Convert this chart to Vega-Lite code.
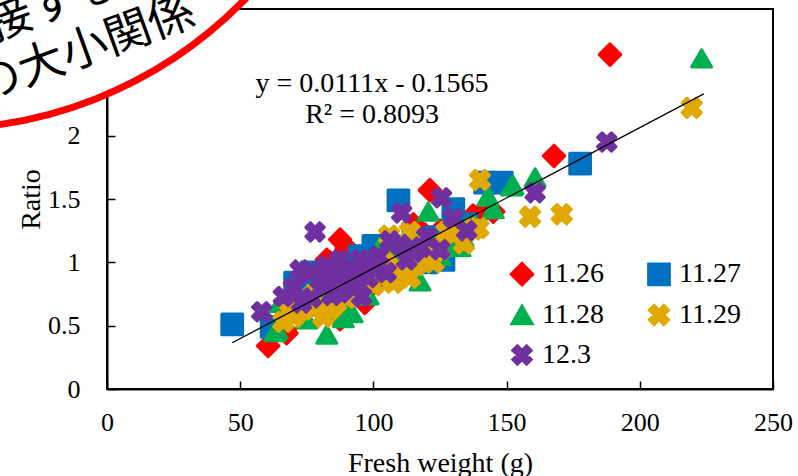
{
  "$schema": "https://vega.github.io/schema/vega-lite/v6.json",
  "autosize": {"type": "none"},
  "padding": {"left": 107, "top": 9, "right": 25, "bottom": 87},
  "width": 666,
  "height": 380,
  "background": "white",
  "config": {
    "font": "Liberation Serif",
    "view": {"stroke": "#000", "strokeWidth": 2},
    "style": {"guide-label": {"font": "Liberation Serif"}},
    "axis": {"domainColor": "#000", "domainWidth": 2, "tickColor": "#000", "tickWidth": 1.5, "tickSize": -8, "labelColor": "#000", "labelFontSize": 26, "titleFontSize": 28, "titleFontWeight": "normal", "titleColor": "#000", "grid": false, "labelFont": "Liberation Serif", "titleFont": "Liberation Serif", "labelFlush": false},
    "legend": {"labelFont": "Liberation Serif", "labelFontSize": 28, "labelColor": "#000"}
  },
  "datasets": {
    "pts": [
      {"d":"11.26","fw":188.8,"r":2.64},{"d":"11.26","fw":167.8,"r":1.84},{"d":"11.26","fw":121.2,"r":1.57},{"d":"11.26","fw":140.6,"r":1.39},{"d":"11.26","fw":145,"r":1.40},{"d":"11.26","fw":137.4,"r":1.37},{"d":"11.26","fw":115,"r":1.30},{"d":"11.26","fw":119.4,"r":1.22},{"d":"11.26","fw":87.5,"r":1.18},{"d":"11.26","fw":90,"r":1.11},{"d":"11.26","fw":92,"r":1.07},{"d":"11.26","fw":82.5,"r":1.02},{"d":"11.26","fw":83.7,"r":1.0},{"d":"11.26","fw":96.8,"r":0.68},{"d":"11.26","fw":99.4,"r":0.82},{"d":"11.26","fw":60.5,"r":0.34},{"d":"11.26","fw":67.4,"r":0.44},{"d":"11.26","fw":66.8,"r":0.47},{"d":"11.26","fw":87.5,"r":0.55},{"d":"11.26","fw":75,"r":0.7},{"d":"11.26","fw":80,"r":0.8},{"d":"11.26","fw":95,"r":0.9},{"d":"11.26","fw":101,"r":0.95},{"d":"11.26","fw":105,"r":1.02},{"d":"11.26","fw":110,"r":1.08},{"d":"11.26","fw":125,"r":1.25},{"d":"11.26","fw":130,"r":1.2},{"d":"11.26","fw":72,"r":0.62},{"d":"11.26","fw":93,"r":0.78},{"d":"11.26","fw":108,"r":0.98},{"d":"11.26","fw":113,"r":1.12},
      {"d":"11.27","fw":47,"r":0.51},{"d":"11.27","fw":177.6,"r":1.78},{"d":"11.27","fw":141.9,"r":1.63},{"d":"11.27","fw":148.2,"r":1.63},{"d":"11.27","fw":109.4,"r":1.49},{"d":"11.27","fw":130,"r":1.42},{"d":"11.27","fw":125,"r":1.08},{"d":"11.27","fw":100,"r":1.13},{"d":"11.27","fw":109,"r":1.05},{"d":"11.27","fw":70.6,"r":0.84},{"d":"11.27","fw":61.8,"r":0.49},{"d":"11.27","fw":76.8,"r":0.92},{"d":"11.27","fw":123.7,"r":1.2},{"d":"11.27","fw":126.3,"r":1.02},{"d":"11.27","fw":80,"r":0.88},{"d":"11.27","fw":90,"r":0.95},{"d":"11.27","fw":95,"r":1.05},{"d":"11.27","fw":103,"r":1.1},{"d":"11.27","fw":115,"r":1.18},{"d":"11.27","fw":118,"r":1.12},{"d":"11.27","fw":85,"r":0.78},{"d":"11.27","fw":73,"r":0.72},{"d":"11.27","fw":93,"r":0.86},{"d":"11.27","fw":120,"r":1.0},{"d":"11.27","fw":105,"r":0.98},{"d":"11.27","fw":135,"r":1.3},{"d":"11.27","fw":68,"r":0.62},
      {"d":"11.28","fw":223.2,"r":2.61},{"d":"11.28","fw":160.7,"r":1.67},{"d":"11.28","fw":152.4,"r":1.61},{"d":"11.28","fw":151.9,"r":1.6},{"d":"11.28","fw":143,"r":1.52},{"d":"11.28","fw":120.6,"r":1.40},{"d":"11.28","fw":130,"r":1.15},{"d":"11.28","fw":132.5,"r":1.12},{"d":"11.28","fw":123.8,"r":1.15},{"d":"11.28","fw":133.6,"r":1.2},{"d":"11.28","fw":131.2,"r":1.13},{"d":"11.28","fw":117.5,"r":0.85},{"d":"11.28","fw":102.5,"r":1.13},{"d":"11.28","fw":108.7,"r":1.1},{"d":"11.28","fw":88.7,"r":0.56},{"d":"11.28","fw":82.5,"r":0.43},{"d":"11.28","fw":63.8,"r":0.47},{"d":"11.28","fw":63,"r":0.45},{"d":"11.28","fw":65,"r":0.68},{"d":"11.28","fw":70,"r":0.62},{"d":"11.28","fw":75,"r":0.55},{"d":"11.28","fw":85,"r":0.62},{"d":"11.28","fw":90,"r":0.65},{"d":"11.28","fw":95,"r":0.78},{"d":"11.28","fw":100,"r":0.9},{"d":"11.28","fw":112,"r":0.95},{"d":"11.28","fw":118,"r":1.0},{"d":"11.28","fw":125,"r":1.05},{"d":"11.28","fw":128,"r":1.25},{"d":"11.28","fw":135,"r":1.28},{"d":"11.28","fw":138,"r":1.3},{"d":"11.28","fw":145,"r":1.42},{"d":"11.28","fw":80,"r":0.72},{"d":"11.28","fw":98,"r":0.74},{"d":"11.28","fw":92,"r":0.6},
      {"d":"11.29","fw":219.5,"r":2.22},{"d":"11.29","fw":158.8,"r":1.36},{"d":"11.29","fw":170.7,"r":1.38},{"d":"11.29","fw":140,"r":1.65},{"d":"11.29","fw":139.4,"r":1.27},{"d":"11.29","fw":127.5,"r":1.24},{"d":"11.29","fw":137.5,"r":1.26},{"d":"11.29","fw":118.8,"r":1.05},{"d":"11.29","fw":122.5,"r":1.0},{"d":"11.29","fw":113.7,"r":1.24},{"d":"11.29","fw":105.9,"r":1.21},{"d":"11.29","fw":113.7,"r":0.88},{"d":"11.29","fw":102.5,"r":0.89},{"d":"11.29","fw":107.5,"r":0.84},{"d":"11.29","fw":66.2,"r":0.53},{"d":"11.29","fw":70,"r":0.57},{"d":"11.29","fw":71.2,"r":0.6},{"d":"11.29","fw":77.4,"r":0.63},{"d":"11.29","fw":81.2,"r":0.57},{"d":"11.29","fw":83.7,"r":0.63},{"d":"11.29","fw":77.4,"r":0.74},{"d":"11.29","fw":88,"r":0.8},{"d":"11.29","fw":92,"r":0.85},{"d":"11.29","fw":96,"r":0.9},{"d":"11.29","fw":100,"r":0.82},{"d":"11.29","fw":110,"r":0.95},{"d":"11.29","fw":116,"r":0.98},{"d":"11.29","fw":125,"r":1.1},{"d":"11.29","fw":130,"r":1.22},{"d":"11.29","fw":134,"r":1.15},{"d":"11.29","fw":90,"r":0.72},{"d":"11.29","fw":86,"r":0.68},{"d":"11.29","fw":68,"r":0.62},{"d":"11.29","fw":95,"r":0.93},{"d":"11.29","fw":123,"r":1.12},{"d":"11.29","fw":104,"r":1.0},
      {"d":"12.3","fw":187.6,"r":1.95},{"d":"12.3","fw":160.7,"r":1.55},{"d":"12.3","fw":125.6,"r":1.51},{"d":"12.3","fw":110.6,"r":1.39},{"d":"12.3","fw":130,"r":1.35},{"d":"12.3","fw":106.2,"r":1.17},{"d":"12.3","fw":110,"r":1.14},{"d":"12.3","fw":112.5,"r":1.02},{"d":"12.3","fw":104.8,"r":0.92},{"d":"12.3","fw":78.1,"r":1.24},{"d":"12.3","fw":58.1,"r":0.61},{"d":"12.3","fw":66.2,"r":0.73},{"d":"12.3","fw":72.5,"r":0.94},{"d":"12.3","fw":80,"r":0.86},{"d":"12.3","fw":85.5,"r":0.94},{"d":"12.3","fw":95,"r":1.02},{"d":"12.3","fw":95.6,"r":0.73},{"d":"12.3","fw":90,"r":0.82},{"d":"12.3","fw":84.4,"r":0.74},{"d":"12.3","fw":76.8,"r":0.72},{"d":"12.3","fw":76.2,"r":0.92},{"d":"12.3","fw":82.5,"r":0.97},{"d":"12.3","fw":87.5,"r":1.02},{"d":"12.3","fw":92.5,"r":0.94},{"d":"12.3","fw":87.5,"r":0.76},{"d":"12.3","fw":81.2,"r":0.81},{"d":"12.3","fw":98,"r":0.88},{"d":"12.3","fw":100,"r":0.98},{"d":"12.3","fw":89,"r":0.92},{"d":"12.3","fw":118,"r":1.12},{"d":"12.3","fw":125,"r":1.1},{"d":"12.3","fw":70,"r":0.8},{"d":"12.3","fw":93,"r":0.8},{"d":"12.3","fw":102,"r":1.05},{"d":"12.3","fw":115,"r":1.08},{"d":"12.3","fw":135,"r":1.25},{"d":"12.3","fw":84,"r":0.86},{"d":"12.3","fw":73,"r":0.68},{"d":"12.3","fw":120,"r":1.2}
    ],
    "reg": [{"fw": 47, "r": 0.3652}, {"fw": 224, "r": 2.3299}],
    "ann": [{"fw": 99.5, "r": 2.41, "t": "y = 0.0111x - 0.1565"}, {"fw": 99.5, "r": 2.165, "t": "R² = 0.8093"}],
    "stamp": [{"fw": -63.4, "r": 5.433}],
    "stamptext": [{"fw": -20.3, "r": 3.033, "t": "接する"}, {"fw": -8.26, "r": 2.678, "t": "の大小関係"}]
  },
  "layer": [
    {
      "data": {"name": "pts"},
      "mark": {"type": "point", "filled": true, "strokeWidth": 3, "strokeJoin": "round", "opacity": 1},
      "encoding": {
        "x": {"field": "fw", "type": "quantitative", "scale": {"domain": [0, 250], "nice": false}, "axis": {"title": "Fresh weight (g)", "values": [0, 50, 100, 150, 200, 250], "labelPadding": 28, "titlePadding": 14}},
        "y": {"field": "r", "type": "quantitative", "scale": {"domain": [0, 3], "nice": false}, "axis": {"title": "Ratio", "values": [0, 0.5, 1, 1.5, 2, 2.5, 3], "format": "~g", "labelPadding": 35, "titlePadding": 2}},
        "fill": {"field": "d", "type": "nominal", "scale": {"domain": ["11.26", "11.27", "11.28", "11.29", "12.3"], "range": ["#FF0000", "#0070C0", "#00B050", "#E1A800", "#7030A0"]}, "legend": {"orient": "none", "legendX": 401, "legendY": 251, "columns": 2, "direction": "horizontal", "title": null, "labelFont": "Liberation Serif", "labelFontSize": 28, "symbolStrokeWidth": 3, "columnPadding": 38, "rowPadding": 8, "labelOffset": 6, "padding": 0}},
        "stroke": {"field": "d", "type": "nominal", "scale": {"domain": ["11.26", "11.27", "11.28", "11.29", "12.3"], "range": ["#FF0000", "#0070C0", "#00B050", "#E1A800", "#7030A0"]}, "legend": {"orient": "none", "legendX": 401, "legendY": 251, "columns": 2, "direction": "horizontal", "title": null, "labelFont": "Liberation Serif", "labelFontSize": 28, "symbolStrokeWidth": 3, "columnPadding": 38, "rowPadding": 8, "labelOffset": 6, "padding": 0}},
        "shape": {"field": "d", "type": "nominal", "scale": {"domain": ["11.26", "11.27", "11.28", "11.29", "12.3"], "range": ["diamond", "square", "triangle-up", "M-1,-0.5L-0.5,-1L0,-0.5L0.5,-1L1,-0.5L0.5,0L1,0.5L0.5,1L0,0.5L-0.5,1L-1,0.5L-0.5,0Z", "M-1,-0.5L-0.5,-1L0,-0.5L0.5,-1L1,-0.5L0.5,0L1,0.5L0.5,1L0,0.5L-0.5,1L-1,0.5L-0.5,0Z"]}, "legend": {"orient": "none", "legendX": 401, "legendY": 251, "columns": 2, "direction": "horizontal", "title": null, "labelFont": "Liberation Serif", "labelFontSize": 28, "symbolStrokeWidth": 3, "columnPadding": 38, "rowPadding": 8, "labelOffset": 6, "padding": 0}},
        "size": {"field": "d", "type": "nominal", "scale": {"domain": ["11.26", "11.27", "11.28", "11.29", "12.3"], "range": [460, 340, 400, 380, 380]}, "legend": {"orient": "none", "legendX": 401, "legendY": 251, "columns": 2, "direction": "horizontal", "title": null, "labelFont": "Liberation Serif", "labelFontSize": 28, "symbolStrokeWidth": 3, "columnPadding": 38, "rowPadding": 8, "labelOffset": 6, "padding": 0}}
      }
    },
    {
      "data": {"name": "reg"},
      "mark": {"type": "line", "color": "#000", "strokeWidth": 1.3},
      "encoding": {"x": {"field": "fw", "type": "quantitative"}, "y": {"field": "r", "type": "quantitative"}}
    },
    {
      "data": {"name": "ann"},
      "mark": {"type": "text", "font": "Liberation Serif", "fontSize": 28, "color": "#000", "align": "center", "baseline": "middle"},
      "encoding": {"x": {"field": "fw", "type": "quantitative"}, "y": {"field": "r", "type": "quantitative"}, "text": {"field": "t"}}
    },
    {
      "data": {"name": "stamp"},
      "mark": {"type": "point", "shape": "circle", "size": 732736, "filled": true, "fill": "#FFFFFF", "stroke": "#FF0000", "strokeWidth": 7, "opacity": 1},
      "encoding": {"x": {"field": "fw", "type": "quantitative"}, "y": {"field": "r", "type": "quantitative"}}
    },
    {
      "data": {"name": "stamptext"},
      "mark": {"type": "text", "font": "Noto Sans CJK JP", "fontSize": 46, "color": "#000", "align": "center", "baseline": "middle", "angle": -20},
      "encoding": {"x": {"field": "fw", "type": "quantitative"}, "y": {"field": "r", "type": "quantitative"}, "text": {"field": "t"}}
    }
  ]
}
